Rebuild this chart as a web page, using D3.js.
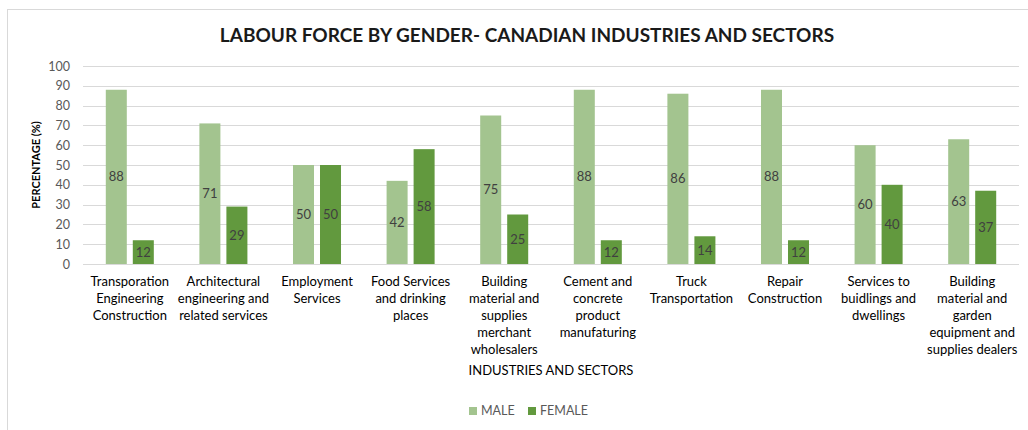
<!DOCTYPE html>
<html><head><meta charset="utf-8">
<script src="https://cdn.jsdelivr.net/npm/d3@7"></script>
<style>body{margin:0;background:#fff}svg{display:block;font-family:Lato,"Open Sans",sans-serif}</style>
</head><body><svg id="c" width="1028" height="430"></svg>
<script>
const categories = [
  ["Transporation","Engineering","Construction"],
  ["Architectural","engineering and","related services"],
  ["Employment","Services"],
  ["Food Services","and drinking","places"],
  ["Building","material and","supplies","merchant","wholesalers"],
  ["Cement and","concrete","product","manufaturing"],
  ["Truck","Transportation"],
  ["Repair","Construction"],
  ["Services to","buidlings and","dwellings"],
  ["Building","material and","garden","equipment and","supplies dealers"]
];
const male = [88,71,50,42,75,88,86,88,60,63];
const female = [12,29,50,58,25,12,14,12,40,37];
const yTicks = [0,10,20,30,40,50,60,70,80,90,100];
const seriesNames = ["MALE","FEMALE"];
const colors = ["#a3c48f","#62993e"];

(function(){
const svg = d3.select("#c");
svg.append("rect").attr("x",7.5).attr("y",9.5).attr("width",1100).attr("height",500)
  .attr("fill","#fff").attr("stroke","#d9d9d9");

const pLeft=83,pRight=1019,pTop=66,pBottom=264;
const ids = categories.map((c,i)=>i);
const x0 = d3.scaleBand().domain(ids).range([pLeft,pRight]).paddingInner(0.487).paddingOuter(0.2435);
const x1 = d3.scaleBand().domain([0,1]).range([0,x0.bandwidth()]).paddingInner(0.222);
const y = d3.scaleLinear().domain([0,100]).range([pBottom,pTop]);

svg.append("g").selectAll("line").data(yTicks).join("line")
  .attr("x1",pLeft).attr("x2",pRight).attr("y1",d=>Math.round(y(d))+0.5).attr("y2",d=>Math.round(y(d))+0.5)
  .attr("stroke","#d9d9d9").attr("stroke-width",1);

const yAxis = d3.axisLeft(y).tickValues(yTicks).tickSize(0).tickPadding(0);
const gy = svg.append("g").attr("transform",`translate(${pLeft-13},0)`).call(yAxis);
gy.select(".domain").remove();
gy.selectAll("text").attr("fill","#595959").style("font-size","12.5px").style("font-family","Lato,'Open Sans',sans-serif");

const data = ids.map(i=>[male[i],female[i]]);
const groups = svg.append("g").selectAll("g").data(data).join("g")
  .attr("transform",(d,i)=>`translate(${x0(i)},0)`);
groups.selectAll("rect").data(d=>d).join("rect")
  .attr("x",(d,j)=>x1(j)).attr("width",x1.bandwidth())
  .attr("y",d=>y(d)).attr("height",d=>y(0)-y(d))
  .attr("fill",(d,j)=>colors[j]);
groups.selectAll("text").data(d=>d).join("text")
  .attr("x",(d,j)=>x1(j)+x1.bandwidth()/2).attr("y",d=>(y(d)+y(0))/2)
  .attr("dy","0.35em").attr("text-anchor","middle")
  .attr("fill","#404040").style("font-size","13px").text(d=>d);

const cl = svg.append("g").selectAll("text").data(categories).join("text")
  .attr("text-anchor","middle").attr("fill","#000").style("font-size","13px")
  .attr("transform",(d,i)=>`translate(${x0(i)+x0.bandwidth()/2},286)`);
cl.selectAll("tspan").data(d=>d).join("tspan").attr("x",0).attr("y",(d,k)=>k*17).text(d=>d);

svg.append("text").attr("x",(pLeft+pRight)/2).attr("y",375).attr("text-anchor","middle")
  .attr("fill","#000").style("font-size","13px").text("INDUSTRIES AND SECTORS");
svg.append("text").attr("transform",`translate(40,${(pTop+pBottom)/2}) rotate(-90)`)
  .attr("text-anchor","middle").attr("fill","#000").style("font-size","11px").style("font-weight","bold")
  .text("PERCENTAGE (%)");

svg.append("text").attr("x",527).attr("y",42).attr("text-anchor","middle")
  .attr("fill","#1a1a1a").style("font-size","19px").style("font-weight","bold")
  .text("LABOUR FORCE BY GENDER- CANADIAN INDUSTRIES AND SECTORS");

const lg = svg.append("g").selectAll("g").data(seriesNames).join("g")
  .attr("transform",(d,i)=>`translate(${[469,528][i]},407)`);
lg.append("rect").attr("width",8).attr("height",8).attr("fill",(d,i)=>colors[i]);
lg.append("text").attr("x",12).attr("y",4).attr("dy","0.35em").attr("fill","#595959")
  .style("font-size","12.5px").text(d=>d);
})();
</script></body></html>
